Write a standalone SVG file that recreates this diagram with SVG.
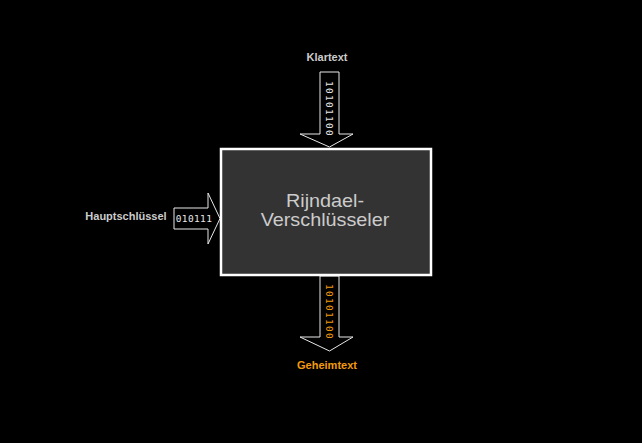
<svg xmlns="http://www.w3.org/2000/svg" width="642" height="443" viewBox="0 0 642 443">
<style>
.arrow{fill:#000;stroke:#e8e8e8;stroke-width:1}
.lbl{font-family:"Liberation Sans",Arial,sans-serif;font-size:11px;font-weight:bold;text-anchor:middle}
.bits{font-family:"DejaVu Sans Mono","Liberation Mono",monospace;font-size:9.5px;text-anchor:middle}
.vbits{letter-spacing:1.3px}
.title{font-family:"Liberation Sans",Arial,sans-serif;font-size:18px;fill:#ccc;text-anchor:middle}
</style>
<rect width="642" height="443" fill="#000"/>
<g id="connectors">
<g id="arrow-in">
<polygon class="arrow" points="320,72 339,72 339,134 353,134 329.5,147 300,134 320,134"/>
<text class="bits vbits" fill="#e8e8e8" transform="translate(326,109) rotate(90)">10101100</text>
</g>
<g id="arrow-key">
<polygon class="arrow" points="174,208 208,208 208,193 220,218.5 208,244 208,229 174,229"/>
<text class="bits" fill="#e8e8e8" x="194" y="222" letter-spacing="0.4">010111</text>
</g>
<g id="arrow-out">
<polygon class="arrow" points="320,276 339,276 339,337 353,337 329.5,351 300,337 320,337"/>
<text class="bits vbits" fill="#f29a0b" transform="translate(326,312) rotate(90)">10101100</text>
</g>
</g>
<g id="node-cipher">
<rect x="221" y="149" width="210" height="126" fill="#333" stroke="#fff" stroke-width="2.5"/>
<text class="title" transform="translate(325,207) scale(1.1,1)">Rijndael-</text>
<text class="title" transform="translate(325,226) scale(1.1,1)">Verschlüsseler</text>
</g>
<g id="node-klartext"><text class="lbl" fill="#ccc" x="327" y="61">Klartext</text></g>
<g id="node-key"><text class="lbl" fill="#ccc" x="126" y="220">Hauptschlüssel</text></g>
<g id="node-geheimtext"><text class="lbl" fill="#f29a0b" x="327" y="369">Geheimtext</text></g>
</svg>
